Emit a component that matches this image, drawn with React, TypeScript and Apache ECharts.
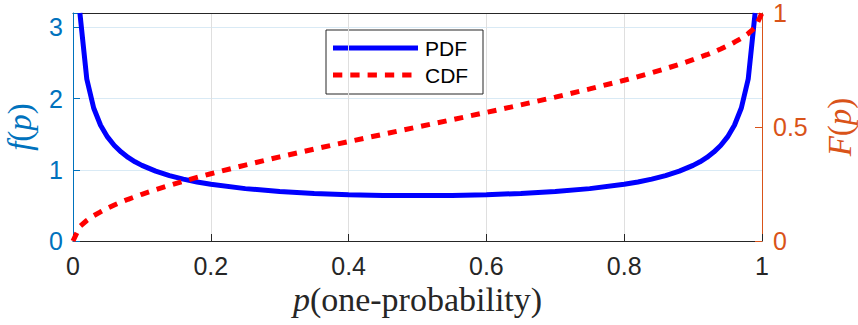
import React, { useEffect, useRef } from "react";
import * as echarts from "echarts";

// PDF sample points (p) and values f(p)
const pdfP = [0.01, 0.02, 0.03, 0.04, 0.05, 0.06, 0.07, 0.08, 0.09, 0.10, 0.12, 0.14, 0.16, 0.18, 0.20, 0.25, 0.30, 0.35, 0.40, 0.45, 0.50, 0.55, 0.60, 0.65, 0.70, 0.75, 0.80, 0.82, 0.84, 0.86, 0.88, 0.90, 0.91, 0.92, 0.93, 0.94, 0.95, 0.96, 0.97, 0.98, 0.99];
const pdfVals = [3.199, 2.274, 1.866, 1.624, 1.461, 1.340, 1.248, 1.173, 1.112, 1.061, 0.980, 0.917, 0.868, 0.829, 0.796, 0.735, 0.695, 0.667, 0.650, 0.640, 0.637, 0.640, 0.650, 0.667, 0.695, 0.735, 0.796, 0.829, 0.868, 0.917, 0.980, 1.061, 1.112, 1.173, 1.248, 1.340, 1.461, 1.624, 1.866, 2.274, 3.199];

// CDF sample points (p) and values F(p)
const cdfP = [0, 0.01, 0.02, 0.03, 0.04, 0.05, 0.06, 0.07, 0.08, 0.09, 0.10, 0.12, 0.14, 0.16, 0.18, 0.20, 0.25, 0.30, 0.35, 0.40, 0.45, 0.50, 0.55, 0.60, 0.65, 0.70, 0.75, 0.80, 0.82, 0.84, 0.86, 0.88, 0.90, 0.91, 0.92, 0.93, 0.94, 0.95, 0.96, 0.97, 0.98, 0.99, 1];
const cdfVals = [0, 0.064, 0.090, 0.111, 0.128, 0.144, 0.158, 0.171, 0.183, 0.194, 0.205, 0.225, 0.244, 0.262, 0.279, 0.295, 0.333, 0.369, 0.403, 0.436, 0.468, 0.500, 0.532, 0.564, 0.597, 0.631, 0.667, 0.705, 0.721, 0.738, 0.756, 0.775, 0.795, 0.806, 0.817, 0.829, 0.842, 0.856, 0.872, 0.889, 0.910, 0.936, 1];

const seriesNames = ["PDF", "CDF"];

const BLUE = "#0072BD";
const ORANGE = "#D95319";
const DARK = "#262626";
const SANS = "Liberation Sans";
const SERIF = "Liberation Serif";

export default function App() {
  const ref = useRef<HTMLDivElement>(null);

  useEffect(() => {
    if (!ref.current) return;
    const chart = echarts.init(ref.current, undefined, { renderer: "svg" });

    const serifRich = (color: string, size: number) => ({
      i: { fontFamily: SERIF, fontStyle: "italic", fontSize: size, lineHeight: size - 2, color },
      n: { fontFamily: SERIF, fontSize: size, lineHeight: size - 2, color },
    });

    const gridL = 73, gridT = 13, gridR = 96, gridB = 84;

    const option: any = {
      animation: false,
      backgroundColor: "#ffffff",
      grid: {
        left: gridL,
        right: gridR,
        top: gridT,
        bottom: gridB,
        containLabel: false,
        outerBoundsMode: "none",
      },
      xAxis: [
        {
          type: "value",
          position: "bottom",
          min: 0,
          max: 1,
          interval: 0.2,
          axisLine: { show: true, onZero: false, lineStyle: { color: DARK, width: 1 } },
          axisTick: { show: true, inside: true, length: 7, lineStyle: { color: DARK } },
          axisLabel: {
            color: DARK,
            fontSize: 25,
            fontFamily: SANS,
            margin: 12,
            hideOverlap: false,
            formatter: (v: number) => String(Math.round(v * 10) / 10),
          },
          splitLine: { show: true, lineStyle: { color: "#dfdfdf", width: 1 } },
          name: "{i|p}{n|(one-probability)}",
          nameLocation: "middle",
          nameGap: 37,
          nameTextStyle: { rich: serifRich(DARK, 34) },
        },
        {
          type: "value",
          position: "top",
          min: 0,
          max: 1,
          axisLine: { show: true, onZero: false, lineStyle: { color: DARK, width: 1 } },
          axisTick: { show: false },
          axisLabel: { show: false },
          splitLine: { show: false },
        },
      ],
      yAxis: [
        {
          type: "value",
          position: "left",
          min: 0,
          max: 3.2,
          interval: 1,
          axisLine: { show: true, onZero: false, lineStyle: { color: BLUE, width: 1 } },
          axisTick: { show: true, inside: true, length: 7, lineStyle: { color: BLUE } },
          axisLabel: {
            color: BLUE,
            fontSize: 25,
            fontFamily: SANS,
            margin: 10,
            formatter: (v: number) => (Math.abs(v - Math.round(v)) < 1e-9 ? String(Math.round(v)) : ""),
          },
          splitLine: { show: true, lineStyle: { color: "#d9eaf5", width: 1 } },
          name: "{i|f}{n|(}{i|p}{n|)}",
          nameLocation: "middle",
          nameRotate: 90,
          nameGap: 38,
          nameTextStyle: { rich: serifRich(BLUE, 33) },
        },
        {
          type: "value",
          position: "right",
          min: 0,
          max: 1,
          interval: 0.5,
          axisLine: { show: true, onZero: false, lineStyle: { color: ORANGE, width: 1 } },
          axisTick: { show: true, inside: true, length: 7, lineStyle: { color: ORANGE } },
          axisLabel: {
            color: ORANGE,
            fontSize: 25,
            fontFamily: SANS,
            margin: 11,
            formatter: (v: number) => String(v),
          },
          splitLine: { show: false },
          name: "{i|F}{n|(}{i|p}{n|)}",
          nameLocation: "middle",
          nameRotate: 90,
          nameGap: 62,
          nameTextStyle: { rich: serifRich(ORANGE, 33) },
        },
      ],
      series: [
        {
          name: seriesNames[0],
          type: "line",
          xAxisIndex: 0,
          yAxisIndex: 0,
          symbol: "none",
          showSymbol: false,
          clip: true,
          data: pdfP.map((p, i) => [p, pdfVals[i]]),
          lineStyle: { color: "#0000ff", width: 5 },
          z: 3,
        },
        {
          name: seriesNames[1],
          type: "line",
          xAxisIndex: 0,
          yAxisIndex: 1,
          symbol: "none",
          showSymbol: false,
          clip: false,
          data: cdfP.map((p, i) => [p, cdfVals[i]]),
          lineStyle: { color: "#ff0000", width: 5, type: [9, 8], cap: "butt" },
          z: 4,
        },
      ],
      graphic: [
        {
          type: "group",
          z: 100,
          children: [
            { type: "rect", shape: { x: 326, y: 30, width: 157, height: 64 }, style: { fill: "#ffffff", stroke: DARK, lineWidth: 1 } },
            { type: "line", shape: { x1: 333, y1: 48, x2: 418, y2: 48 }, style: { stroke: "#0000ff", lineWidth: 5 } },
            { type: "line", shape: { x1: 333, y1: 75, x2: 418, y2: 75 }, style: { stroke: "#ff0000", lineWidth: 5, lineDash: [9.3, 8] } },
            { type: "text", x: 425, y: 48, style: { text: seriesNames[0], fontSize: 21, fontFamily: SANS, fill: "#000000", verticalAlign: "middle", align: "left" } },
            { type: "text", x: 425, y: 75, style: { text: seriesNames[1], fontSize: 21, fontFamily: SANS, fill: "#000000", verticalAlign: "middle", align: "left" } },
          ],
        },
      ],
    };

    chart.setOption(option);
    return () => chart.dispose();
  }, []);

  return (
    <div
      ref={ref}
      style={{ position: "absolute", left: 0, top: 0, width: 858, height: 325, background: "#fff" }}
    />
  );
}
